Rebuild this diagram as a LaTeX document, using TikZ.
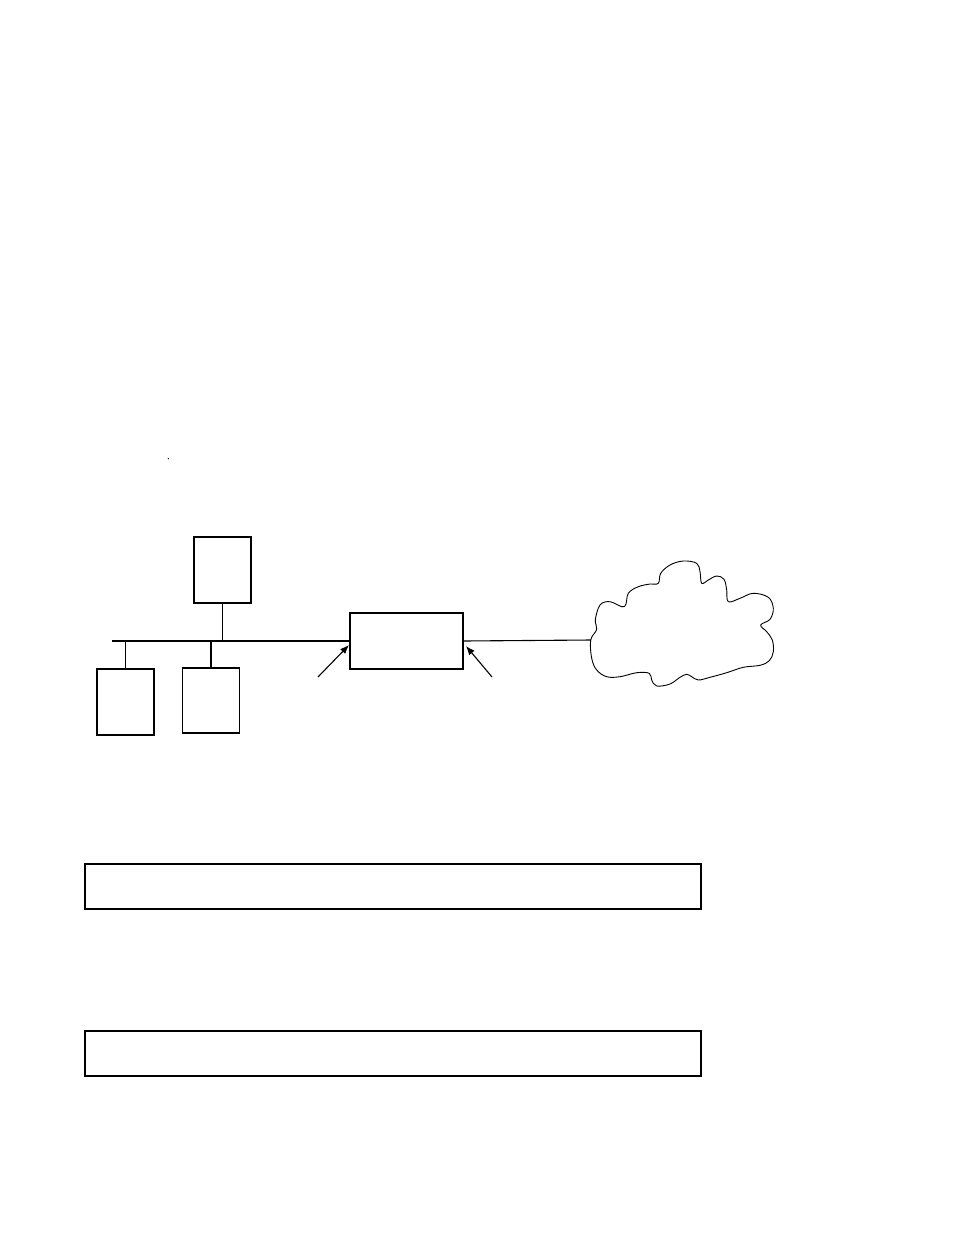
\documentclass[tikz,border=0pt]{standalone}
\usepackage{tikz}
\usetikzlibrary{arrows.meta}

\begin{document}
\begin{tikzpicture}
    [x=1pt, y=-1pt, >={Latex[length=9pt,width=7pt]}, line width=1.1pt, host/.style={rectangle, draw, line width=1.1pt, inner sep=0pt, minimum width=57pt, minimum height=66pt}, rtr/.style={rectangle, draw, line width=1.1pt, inner sep=0pt, minimum width=113pt, minimum height=56pt}, bar/.style={rectangle, draw, line width=1.1pt, inner sep=0pt, minimum width=616pt, minimum height=45pt}]
    \useasboundingbox (0,0) rectangle (954,1235);
    \fill (168.3,458.7) circle (0.7pt);
    \begin{scope}
    \node[host] (srv) at (222.5,570) {};
    \node[host] (h1) at (125.5,702) {};
    \node[host, minimum height=65pt] (h2) at (211,700.5) {};
    \node[rtr] (router) at (406.5,641) {};
    \coordinate (busl) at (112,641);
    \coordinate (net) at (591,640);
    \draw (busl) -- (router.west);
    \draw (srv.south) -- (srv.south |- busl);
    \draw (h1.north) -- (h1.north |- busl);
    \draw (h2.north) -- (h2.north |- busl);
    \draw (router.east) -- (net);
    \coordinate (p1) at (318,677);
    \coordinate (q1) at (349,645);
    \coordinate (p2) at (492,677);
    \coordinate (q2) at (466,646);
    \draw[->] (p1) -- (q1);
    \draw[->] (p2) -- (q2);
    \draw[line width=0.9pt] plot[smooth cycle, tension=0.6] coordinates {(590.7,640) (596.7,629.3) (595.3,620) (600,605) (610,601.7) (624.3,606.7) (628.3,593.3) (638.3,586.7) (650,584) (658.3,583.3) (660.7,573.3) (670,565) (683.3,561) (696.7,563.3) (700,571.7) (701.7,583.3) (708.3,580) (716.7,576) (724,579.3) (726.7,590) (728.3,601.7) (740,598.3) (753.3,593.3) (768.3,597.3) (773.3,608.3) (770,619.3) (760.7,625) (766.7,631.7) (772.3,640) (773.3,651.7) (769.3,660.7) (760,665.3) (743.3,667.3) (726.7,672.7) (710,677.3) (698.3,680) (691.7,676.7) (686.7,674.3) (680,677.3) (670,684) (656.7,686) (651.7,680) (649.3,673.3) (636.7,672.7) (620,676.7) (606.7,676.7) (596.7,670) (591.7,658.3)};
    \end{scope}
    \node[bar] (top) at (393,886.5) {};
    \node[bar] (bot) at (393,1053.5) {};
    \end{tikzpicture}
\end{document}
